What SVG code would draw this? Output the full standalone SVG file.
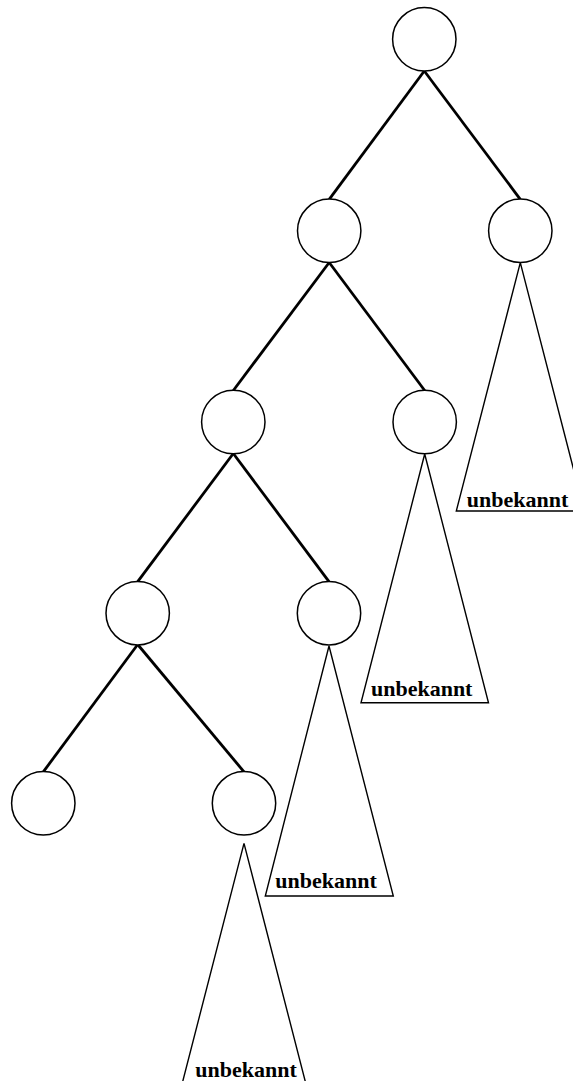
<svg xmlns="http://www.w3.org/2000/svg" width="573" height="1081" viewBox="0 0 573 1081">
<style>
.node{fill:#fff;stroke:#000;stroke-width:1.5}
.edge{stroke:#000;stroke-width:2.8;fill:none}
.tri{fill:#fff;stroke:#000;stroke-width:1.4}
.lbl{font-family:"Liberation Serif","Times New Roman",serif;font-weight:bold;font-size:22px;fill:#000;text-anchor:middle}
</style>
<rect width="573" height="1081" fill="#fff"/>
<g id="connectors">
<line class="edge" x1="424.3" y1="71" x2="329.2" y2="199.3"/>
<line class="edge" x1="424.3" y1="71" x2="520.3" y2="199.3"/>
<line class="edge" x1="329.2" y1="262.5" x2="233.3" y2="390.5"/>
<line class="edge" x1="329.2" y1="262.5" x2="424.7" y2="390.5"/>
<line class="edge" x1="233.3" y1="453.5" x2="137.7" y2="581.7"/>
<line class="edge" x1="233.3" y1="453.5" x2="329" y2="581.7"/>
<line class="edge" x1="137.7" y1="644.5" x2="43.3" y2="771.8"/>
<line class="edge" x1="137.7" y1="644.5" x2="244" y2="771.8"/>
</g>
<g id="sub1">
<polygon class="tri" points="520.3,262.7 584.3,511 456.3,511"/>
<text class="lbl" x="517.5" y="507">unbekannt</text>
</g>
<g id="sub2">
<polygon class="tri" points="424.7,454 488.5,702.8 361,702.8"/>
<text class="lbl" x="421.7" y="696">unbekannt</text>
</g>
<g id="sub3">
<polygon class="tri" points="329,646 393.3,896 265.3,896"/>
<text class="lbl" x="326" y="888">unbekannt</text>
</g>
<g id="sub4">
<polygon class="tri" points="244,843.3 308,1092 180,1092"/>
<text class="lbl" x="246" y="1076.7">unbekannt</text>
</g>
<g id="n0"><circle class="node" cx="424.3" cy="39.3" r="31.7"/></g>
<g id="n1"><circle class="node" cx="329.2" cy="230.8" r="31.7"/></g>
<g id="n2"><circle class="node" cx="520.3" cy="230.8" r="31.7"/></g>
<g id="n3"><circle class="node" cx="233.3" cy="422" r="31.7"/></g>
<g id="n4"><circle class="node" cx="424.7" cy="422" r="31.7"/></g>
<g id="n5"><circle class="node" cx="137.7" cy="613.2" r="31.7"/></g>
<g id="n6"><circle class="node" cx="329" cy="613.2" r="31.7"/></g>
<g id="n7"><circle class="node" cx="43.3" cy="803.3" r="31.7"/></g>
<g id="n8"><circle class="node" cx="244" cy="803.3" r="31.7"/></g>
</svg>
